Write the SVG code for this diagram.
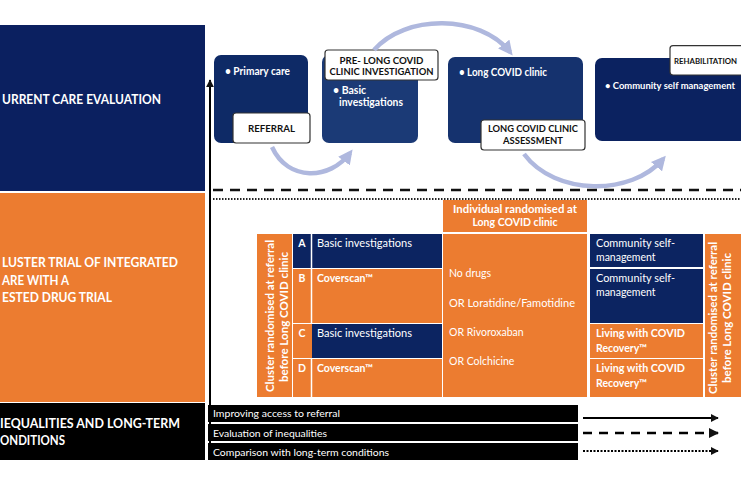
<svg xmlns="http://www.w3.org/2000/svg" width="741" height="486" viewBox="0 0 741 486">
<defs>
<style>
text{font-family:Lato,"Liberation Sans",sans-serif;fill:#fff}
.b{font-weight:bold}
.lab{font-weight:bold;fill:#111;font-size:10px}
.navy{fill:#0c2461}
.or{fill:#ec7c30}
.wl{stroke:#fff;stroke-width:1.5}
.arc{fill:none;stroke:#afb8de;stroke-width:4.5}
.tag{fill:#fff;stroke:#333;stroke-width:1.2}
</style>
<marker id="ah" viewBox="0 0 10 10" refX="9" refY="5" markerWidth="4" markerHeight="4" orient="auto" markerUnits="strokeWidth"><path d="M0,0 L10,5 L0,10 z" fill="#111"/></marker>
<marker id="lav" viewBox="0 0 10 10" refX="7" refY="5" markerWidth="3.2" markerHeight="3.2" orient="auto" markerUnits="strokeWidth"><path d="M0,0 L10,5 L0,10 z" fill="#afb8de"/></marker>
</defs>
<rect width="741" height="486" fill="#fff"/>

<g id="left-current">
<rect x="0" y="25" width="205" height="166" fill="#0b2060"/>
<text x="2" y="104" class="b" font-size="13" textLength="159" lengthAdjust="spacingAndGlyphs">URRENT CARE EVALUATION</text>
</g>
<g id="left-cluster">
<rect x="0" y="193" width="205" height="209" class="or"/>
<text x="2" y="267" class="b" font-size="13" textLength="176" lengthAdjust="spacingAndGlyphs">LUSTER TRIAL OF INTEGRATED</text>
<text x="2" y="285" class="b" font-size="13" textLength="67" lengthAdjust="spacingAndGlyphs">ARE WITH A</text>
<text x="2" y="302" class="b" font-size="13" textLength="110" lengthAdjust="spacingAndGlyphs">ESTED DRUG TRIAL</text>
</g>
<g id="left-inequalities">
<rect x="0" y="403" width="205" height="57" fill="#000"/>
<text x="0" y="428" class="b" font-size="13" textLength="180" lengthAdjust="spacingAndGlyphs">IEQUALITIES AND LONG-TERM</text>
<text x="0" y="445" class="b" font-size="13" textLength="65" lengthAdjust="spacingAndGlyphs">ONDITIONS</text>
</g>

<g id="primary-care">
<rect x="214" y="55" width="94" height="88" rx="7" fill="#0e2a66"/>
<text x="225" y="75" class="b" font-size="10.5" textLength="65" lengthAdjust="spacingAndGlyphs">• Primary care</text>
<rect x="233" y="113" width="77" height="30" rx="3" class="tag"/>
<text x="271.5" y="132" class="lab" text-anchor="middle" textLength="47" lengthAdjust="spacingAndGlyphs">REFERRAL</text>
</g>
<g id="pre-long-covid">
<rect x="322" y="55" width="96" height="88" rx="7" fill="#1b3a76"/>
<rect x="325" y="50" width="113" height="30" rx="3" class="tag"/>
<text x="381.5" y="64" class="lab" text-anchor="middle" textLength="84" lengthAdjust="spacingAndGlyphs">PRE- LONG COVID</text>
<text x="381.5" y="75" class="lab" text-anchor="middle" textLength="104" lengthAdjust="spacingAndGlyphs">CLINIC INVESTIGATION</text>
<text x="333" y="94" class="b" font-size="10.5">• Basic</text>
<text x="339" y="106" class="b" font-size="10.5" textLength="64" lengthAdjust="spacingAndGlyphs">investigations</text>
</g>
<g id="long-covid-clinic">
<rect x="448" y="57" width="135" height="86" rx="7" fill="#15326e"/>
<text x="459" y="76" class="b" font-size="10.5" textLength="88" lengthAdjust="spacingAndGlyphs">• Long COVID clinic</text>
<rect x="481" y="120" width="104" height="30" rx="3" class="tag"/>
<text x="533" y="132" class="lab" text-anchor="middle" textLength="90" lengthAdjust="spacingAndGlyphs">LONG COVID CLINIC</text>
<text x="533" y="144" class="lab" text-anchor="middle" textLength="60" lengthAdjust="spacingAndGlyphs">ASSESSMENT</text>
</g>
<g id="rehabilitation">
<path d="M602,58 H741 V141 H602 A7,7 0 0 1 595,134 V65 A7,7 0 0 1 602,58 Z" fill="#0b2260"/>
<text x="605" y="89" class="b" font-size="9" textLength="130" lengthAdjust="spacingAndGlyphs">• Community self management</text>
<path d="M741,45.6 H673 A3,3 0 0 0 670,48.6 V72 A3,3 0 0 0 673,75 H741" class="tag"/>
<text x="674" y="64" class="lab" font-size="8" style="font-size:8px" textLength="63" lengthAdjust="spacingAndGlyphs">REHABILITATION</text>
</g>

<g id="connectors">
<path d="M272,147 C288,182 330,180 350,153" class="arc" marker-end="url(#lav)"/>
<path d="M374,50 C405,14 480,14 510,52" class="arc" marker-end="url(#lav)"/>
<path d="M524,154 C555,196 632,196 663,159" class="arc" marker-end="url(#lav)"/>
<line x1="210" y1="460" x2="210" y2="80" stroke="#000" stroke-width="2" marker-end="url(#ah)"/>
<line x1="213" y1="190" x2="741" y2="190" stroke="#111" stroke-width="2.5" stroke-dasharray="10,7"/>
<line x1="213" y1="199" x2="741" y2="199" stroke="#222" stroke-width="2" stroke-dasharray="1.5,1.5"/>
<line x1="583" y1="418" x2="718" y2="418" stroke="#000" stroke-width="2" marker-end="url(#ah)"/>
<line x1="583" y1="433" x2="718" y2="433" stroke="#000" stroke-width="2.5" stroke-dasharray="9,7" marker-end="url(#ah)"/>
<line x1="583" y1="451" x2="718" y2="451" stroke="#000" stroke-width="2" stroke-dasharray="2,1.5" marker-end="url(#ah)"/>
</g>

<g id="cluster-left">
<rect x="257" y="234" width="35" height="163" class="or"/>
<text transform="translate(274 316) rotate(-90)" class="b" font-size="10.5" text-anchor="middle" textLength="152" lengthAdjust="spacingAndGlyphs">Cluster randomised at referral</text>
<text transform="translate(288 317) rotate(-90)" class="b" font-size="10.5" text-anchor="middle" textLength="130" lengthAdjust="spacingAndGlyphs">before Long COVID clinic</text>
</g>
<g id="arm-a">
<rect x="293" y="234" width="149" height="34" class="navy"/>
<line x1="311.5" y1="234" x2="311.5" y2="268" class="wl"/>
<text x="302" y="247" class="b" font-size="10.5" text-anchor="middle">A</text>
<text x="317" y="247" font-size="10.5" textLength="95" lengthAdjust="spacingAndGlyphs">Basic investigations</text>
</g>
<g id="arm-b">
<rect x="293" y="269" width="149" height="54" class="or"/>
<line x1="311.5" y1="269" x2="311.5" y2="323" class="wl"/>
<text x="302" y="282" class="b" font-size="10.5" text-anchor="middle">B</text>
<text x="317" y="282" class="b" font-size="10.5">Coverscan™</text>
</g>
<g id="arm-c">
<rect x="293" y="324" width="149" height="34" class="or"/>
<rect x="312" y="324" width="130" height="34" class="navy"/>
<text x="302" y="337" class="b" font-size="10.5" text-anchor="middle">C</text>
<text x="317" y="337" font-size="10.5" textLength="95" lengthAdjust="spacingAndGlyphs">Basic investigations</text>
</g>
<g id="arm-d">
<rect x="293" y="359" width="149" height="38" class="or"/>
<line x1="311.5" y1="359" x2="311.5" y2="397" class="wl"/>
<text x="302" y="372" class="b" font-size="10.5" text-anchor="middle">D</text>
<text x="317" y="372" class="b" font-size="10.5">Coverscan™</text>
</g>

<g id="individual-header">
<rect x="443" y="200" width="144" height="32" class="or"/>
<text x="515" y="213" class="b" font-size="10.5" text-anchor="middle" textLength="124" lengthAdjust="spacingAndGlyphs">Individual randomised at</text>
<text x="515" y="226" class="b" font-size="10.5" text-anchor="middle">Long COVID clinic</text>
</g>
<g id="drugs">
<rect x="443" y="234" width="144" height="163" class="or"/>
<text x="449" y="277" font-size="10.5">No drugs</text>
<text x="449" y="307" font-size="10.5" textLength="126" lengthAdjust="spacingAndGlyphs">OR Loratidine/Famotidine</text>
<text x="449" y="336" font-size="10.5">OR Rivoroxaban</text>
<text x="449" y="365" font-size="10.5">OR Colchicine</text>
</g>

<g id="rehab-1">
<rect x="590" y="234" width="113" height="33" class="navy"/>
<text x="596" y="247" font-size="10.5" textLength="79" lengthAdjust="spacingAndGlyphs">Community self-</text>
<text x="596" y="261" font-size="10.5">management</text>
</g>
<g id="rehab-2">
<rect x="590" y="269" width="113" height="54" class="navy"/>
<text x="596" y="282" font-size="10.5" textLength="79" lengthAdjust="spacingAndGlyphs">Community self-</text>
<text x="596" y="296" font-size="10.5">management</text>
</g>
<g id="rehab-3">
<rect x="590" y="324" width="113" height="34" class="or"/>
<text x="596" y="337" class="b" font-size="10.5" textLength="89" lengthAdjust="spacingAndGlyphs">Living with COVID</text>
<text x="596" y="352" class="b" font-size="10.5">Recovery™</text>
</g>
<g id="rehab-4">
<rect x="590" y="359" width="113" height="38" class="or"/>
<text x="596" y="372" class="b" font-size="10.5" textLength="89" lengthAdjust="spacingAndGlyphs">Living with COVID</text>
<text x="596" y="387" class="b" font-size="10.5">Recovery™</text>
</g>
<g id="cluster-right">
<rect x="705" y="234" width="36" height="163" class="or"/>
<text transform="translate(717 318) rotate(-90)" class="b" font-size="10.5" text-anchor="middle" textLength="152" lengthAdjust="spacingAndGlyphs">Cluster randomised at referral</text>
<text transform="translate(731 318) rotate(-90)" class="b" font-size="10.5" text-anchor="middle" textLength="130" lengthAdjust="spacingAndGlyphs">before Long COVID clinic</text>
</g>

<g id="bar-referral">
<rect x="208" y="405" width="370" height="17" fill="#000"/>
<text x="213" y="417" font-size="10" textLength="127" lengthAdjust="spacingAndGlyphs">Improving access to referral</text>
</g>
<g id="bar-inequalities">
<rect x="208" y="424" width="370" height="17" fill="#000"/>
<text x="213" y="437" font-size="10" textLength="114" lengthAdjust="spacingAndGlyphs">Evaluation of inequalities</text>
</g>
<g id="bar-ltc">
<rect x="208" y="443" width="370" height="17" fill="#000"/>
<text x="213" y="456" font-size="10" textLength="176" lengthAdjust="spacingAndGlyphs">Comparison with long-term conditions</text>
</g>
</svg>
